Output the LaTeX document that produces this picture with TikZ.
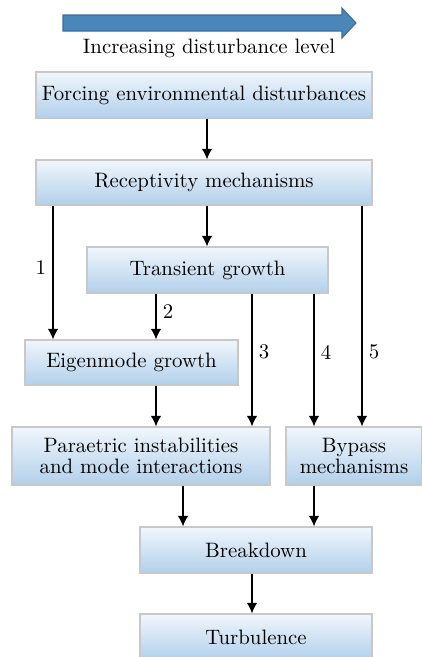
\documentclass[tikz,border=0pt]{standalone}
\usetikzlibrary{arrows.meta}
\definecolor{boxtop}{HTML}{F0F6FC}
\definecolor{boxbottom}{HTML}{B2D0EB}
\definecolor{boxline}{HTML}{C8C8C8}
\definecolor{levelfill}{HTML}{4A86B8}
\definecolor{levelline}{HTML}{3A6E9C}
\tikzset{
stage/.style={
	draw=boxline, top color=boxtop, bottom color=boxbottom,
	align=center, inner sep=0pt, line width=0.6pt,
	font=\fontsize{10}{10}\selectfont},
flow/.style={-{Latex[length=5pt,width=5pt]}, line width=0.6pt},
lane/.style={inner sep=3pt}
}

\begin{document}
\begin{tikzpicture}[x=0.48pt, y=-0.48pt, font=\fontsize{10}{12.4}\selectfont]
	\useasboundingbox (0,0) rectangle (422,657);
	% level arrow
	\filldraw[fill=levelfill, draw=levelline, line width=0.5pt]
		(63,15) -- (342,15) -- (342,8) -- (356,23) -- (342,38) -- (342,31) -- (63,31) -- cycle;
	\node (level) at (209,48) {Increasing disturbance level};
	% stages
	\node[stage, minimum width=336*0.48pt, minimum height=46*0.48pt] (force) at (204,95) {Forcing environmental disturbances};
	\node[stage, minimum width=336*0.48pt, minimum height=45*0.48pt] (recept) at (204,182.5) {Receptivity mechanisms};
	\node[stage, minimum width=241*0.48pt, minimum height=46*0.48pt] (trans) at (207.5,270) {Transient growth};
	\node[stage, minimum width=213*0.48pt, minimum height=45*0.48pt] (eigen) at (131.5,362.5) {Eigenmode growth};
	\node[stage, minimum width=258*0.48pt, minimum height=58*0.48pt] (para) at (141,456) {Paraetric instabilities\\and mode interactions};
	\node[stage, minimum width=136*0.48pt, minimum height=58*0.48pt] (bypass) at (354,456) {Bypass\\mechanisms};
	\node[stage, minimum width=232*0.48pt, minimum height=46*0.48pt] (break) at (256,550) {Breakdown};
	\node[stage, minimum width=232*0.48pt, minimum height=46*0.48pt] (turb) at (256,637) {Turbulence};
	% connectors
	\draw[flow] (force.south -| 207,0) -- (recept.north -| 207,0);
	\draw[flow] (recept.south -| 207,0) -- (trans.north -| 207,0);
	\draw[flow] (recept.south -| 53,0) -- node[pos=0.46, left=0pt, lane] {1} (eigen.north -| 53,0);
	\draw[flow] (trans.south -| 156,0) -- node[pos=0.4, right=0pt, lane] {2} (eigen.north -| 156,0);
	\draw[flow] (trans.south -| 252,0) -- node[pos=0.44, right=0pt, lane] {3} (para.north -| 252,0);
	\draw[flow] (trans.south -| 314,0) -- node[pos=0.44, right=0pt, lane] {4} (bypass.north -| 314,0);
	\draw[flow] (recept.south -| 362,0) -- node[pos=0.66, right=0pt, lane] {5} (bypass.north -| 362,0);
	\draw[flow] (eigen.south -| 156,0) -- (para.north -| 156,0);
	\draw[flow] (para.south -| 183,0) -- (break.north -| 183,0);
	\draw[flow] (bypass.south -| 314,0) -- (break.north -| 314,0);
	\draw[flow] (break.south -| 252,0) -- (turb.north -| 252,0);
\end{tikzpicture}
\end{document}
